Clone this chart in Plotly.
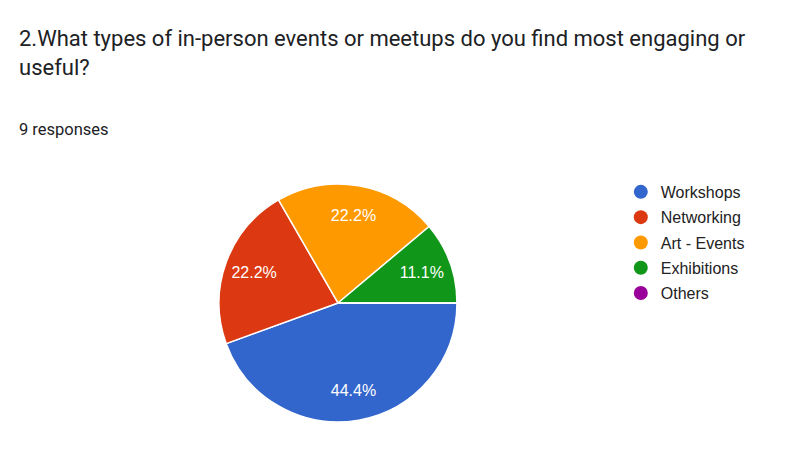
import plotly.graph_objects as go

# survey answers
categories = ["Workshops", "Networking", "Art - Events", "Exhibitions", "Others"]
counts = [4, 2, 2, 1, 0]
colors = ["#3366cc", "#dc3912", "#ff9900", "#109618", "#990099"]

question = "2.What types of in-person events or meetups do you find most engaging or<br>useful?"
n_responses = sum(counts)

pie_domain = dict(x=[0.2638, 0.5612], y=[0.08, 0.609])

fig = go.Figure()

# coloured slices, no text
fig.add_trace(go.Pie(
    labels=categories, values=counts, sort=False,
    direction="clockwise", rotation=90,
    marker=dict(colors=colors, line=dict(color="white", width=1.5)),
    textinfo="none",
    hoverinfo="label+value+percent",
    domain=pie_domain,
    showlegend=False,
))

# transparent donut on top just to push the % labels further out (google style)
fig.add_trace(go.Pie(
    labels=categories, values=counts, sort=False,
    direction="clockwise", rotation=90, hole=0.5,
    marker=dict(colors=["rgba(0,0,0,0)"] * len(categories), line=dict(width=0)),
    texttemplate="%{percent:.1%}", textposition="inside",
    insidetextorientation="horizontal",
    textfont=dict(family="Liberation Sans, Arial", size=16, color="white"),
    hoverinfo="skip",
    domain=pie_domain,
    showlegend=False,
))

# legend with round markers, like google forms
for i, (cat, col) in enumerate(zip(categories, colors)):
    fig.add_trace(go.Scatter(
        x=[None], y=[None], mode="markers", name=cat,
        legendgroup=str(i),
        marker=dict(color=col, size=14, symbol="circle"),
    ))

fig.update_layout(
    width=800, height=450,
    margin=dict(l=0, r=0, t=0, b=0),
    paper_bgcolor="white", plot_bgcolor="white",
    xaxis=dict(visible=False), yaxis=dict(visible=False),
    legend=dict(
        x=0.766, y=0.629, xanchor="left", yanchor="top",
        traceorder="grouped", tracegroupgap=1.5,
        font=dict(family="Liberation Sans, Arial", size=16, color="#222222"),
        itemclick=False,
    ),
    annotations=[
        dict(text=question, x=9, y=16, xref="paper", yref="paper",
             showarrow=False, align="left", xanchor="left", yanchor="top",
             font=dict(family="Roboto", size=22, color="#202124")),
        dict(text=f"{n_responses} responses", x=9, y=110,
             xref="paper", yref="paper", showarrow=False,
             xanchor="left", yanchor="top",
             font=dict(family="Roboto", size=16.5, color="#202124")),
    ],
)

# annotations placed in pixels -> convert to paper fractions
for a in fig.layout.annotations:
    a.x = a.x / 800
    a.y = 1 - a.y / 450

fig.write_html("out.html")
